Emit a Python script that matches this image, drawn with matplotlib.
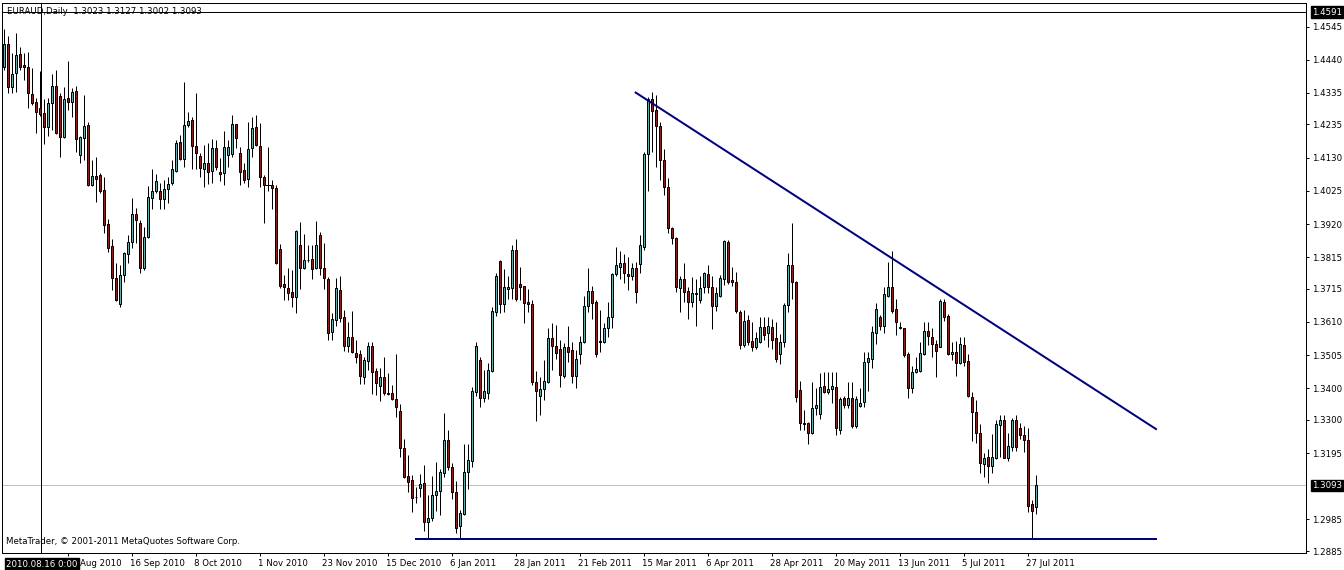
import matplotlib
matplotlib.use("Agg")
import matplotlib.pyplot as plt
import matplotlib.transforms as mtransforms
from matplotlib.patches import Rectangle

# EURAUD daily bars, prices in pips (1e-4)
opens = [14418, 14490, 14355, 14397, 14458, 14424, 14416, 14332, 14306, 14286,
         14271, 14228, 14302, 14357, 14325, 14195, 14318, 14307, 14341, 14139,
         14191, 14234, 14043, 14072, 14075, 14028, 13920, 13851, 13748, 13667,
         13758, 13824, 13863, 13952, 13922, 13780, 13880, 14002, 14024, 14026,
         13998, 14030, 14049, 14089, 14179, 14125, 14232, 14249, 14167, 14136,
         14095, 14112, 14089, 14161, 14084, 14081, 14139, 14141, 14236, 14146,
         14091, 14062, 14160, 14226, 14168, 14068, 14043, 14043, 14035, 13840,
         13729, 13716, 13704, 13690, 13854, 13780, 13805, 13808, 13780, 13885,
         13780, 13746, 13577, 13616, 13711, 13625, 13535, 13563, 13511, 13507,
         13437, 13487, 13534, 13454, 13407, 13435, 13386, 13384, 13367, 13328,
         13210, 13122, 13110, 13057, 13083, 13099, 12978, 12988, 13061, 13076,
         13133, 13236, 13152, 13071, 12965, 13002, 13136, 13171, 13389, 13490,
         13370, 13386, 13456, 13643, 13803, 13666, 13713, 13719, 13838, 13729,
         13724, 13672, 13666, 13421, 13377, 13397, 13421, 13558, 13535, 13524,
         13440, 13530, 13521, 13440, 13508, 13546, 13659, 13709, 13674, 13550,
         13546, 13590, 13627, 13761, 13785, 13798, 13761, 13754, 13780, 13793,
         13848, 14142, 14316, 14281, 14230, 14123, 14036, 13906, 13875, 13717,
         13745, 13709, 13672, 13703, 13678, 13720, 13762, 13720, 13659, 13692,
         13745, 13864, 13743, 13738, 13641, 13537, 13616, 13550, 13532, 13548,
         13595, 13574, 13593, 13558, 13508, 13546, 13664, 13790, 13738, 13395,
         13291, 13291, 13257, 13337, 13318, 13407, 13389, 13397, 13403, 13268,
         13368, 13347, 13368, 13281, 13345, 13356, 13484, 13492, 13574, 13625,
         13598, 13693, 13720, 13651, 13593, 13590, 13509, 13400, 13450, 13456,
         13509, 13582, 13563, 13540, 13532, 13672, 13629, 13509, 13516, 13479,
         13537, 13486, 13374, 13324, 13257, 13159, 13181, 13155, 13180, 13284,
         13300, 13180, 13215, 13300, 13275, 13252, 13236, 13034, 13023]
highs = [14536, 14515, 14460, 14524, 14480, 14460, 14465, 14413, 14318, 14405,
         14316, 14318, 14395, 14408, 14334, 14353, 14435, 14350, 14357, 14197,
         14329, 14242, 14123, 14133, 14081, 14068, 13935, 13872, 13796, 13791,
         13830, 13886, 14002, 13970, 13933, 13912, 14041, 14093, 14079, 14049,
         14060, 14070, 14121, 14186, 14202, 14368, 14273, 14260, 14336, 14146,
         14170, 14176, 14189, 14186, 14128, 14215, 14186, 14265, 14237, 14165,
         14112, 14244, 14258, 14265, 14239, 14075, 14165, 14060, 14045, 13857,
         13759, 13780, 13774, 13901, 13925, 13888, 13854, 13854, 13930, 13894,
         13859, 13753, 13637, 13750, 13756, 13648, 13611, 13645, 13553, 13521,
         13500, 13545, 13545, 13463, 13463, 13498, 13449, 13410, 13509, 13350,
         13240, 13189, 13126, 13089, 13129, 13157, 13062, 13122, 13168, 13144,
         13323, 13268, 13163, 13108, 13015, 13224, 13224, 13403, 13548, 13500,
         13458, 13479, 13656, 13766, 13805, 13778, 13756, 13854, 13873, 13785,
         13724, 13714, 13680, 13455, 13435, 13490, 13590, 13606, 13601, 13553,
         13543, 13597, 13548, 13521, 13566, 13692, 13780, 13724, 13680, 13648,
         13606, 13672, 13766, 13846, 13833, 13825, 13817, 13798, 13801, 13885,
         14149, 14321, 14337, 14328, 14244, 14158, 14065, 13910, 13878, 13754,
         13798, 13722, 13751, 13745, 13754, 13769, 13790, 13756, 13722, 13759,
         13870, 13870, 13783, 13769, 13648, 13648, 13632, 13611, 13579, 13625,
         13625, 13625, 13618, 13611, 13571, 13669, 13827, 13924, 13740, 13423,
         13331, 13293, 13421, 13400, 13447, 13453, 13453, 13450, 13450, 13371,
         13376, 13421, 13421, 13377, 13400, 13516, 13516, 13597, 13669, 13632,
         13722, 13801, 13835, 13683, 13611, 13592, 13516, 13472, 13498, 13548,
         13609, 13611, 13590, 13553, 13683, 13682, 13634, 13548, 13551, 13563,
         13563, 13509, 13389, 13363, 13287, 13196, 13207, 13254, 13300, 13316,
         13316, 13257, 13305, 13316, 13289, 13281, 13275, 13046, 13127]
lows = [14406, 14334, 14334, 14339, 14408, 14376, 14288, 14297, 14209, 14263,
        14173, 14200, 14218, 14205, 14133, 14191, 14281, 14258, 14149, 14112,
        14123, 14040, 14040, 13991, 14017, 13891, 13830, 13711, 13675, 13657,
        13738, 13796, 13845, 13859, 13766, 13773, 13875, 13968, 14017, 13968,
        13968, 13988, 14044, 14086, 14123, 14102, 14228, 14094, 14094, 14070,
        14038, 14046, 14051, 14091, 14057, 14042, 14102, 14133, 14160, 14042,
        14049, 14036, 14131, 14167, 14038, 13922, 14026, 13966, 13794, 13719,
        13680, 13680, 13658, 13637, 13714, 13777, 13801, 13746, 13778, 13759,
        13713, 13553, 13553, 13597, 13611, 13518, 13516, 13512, 13479, 13414,
        13413, 13458, 13381, 13379, 13361, 13379, 13379, 13363, 13310, 13184,
        13117, 13071, 13007, 13036, 13057, 12949, 12923, 12980, 13013, 12999,
        13120, 13141, 13049, 12941, 12923, 12999, 13080, 13152, 13376, 13342,
        13358, 13366, 13453, 13629, 13639, 13643, 13683, 13682, 13676, 13680,
        13608, 13643, 13411, 13298, 13314, 13363, 13416, 13458, 13493, 13405,
        13434, 13484, 13418, 13400, 13477, 13543, 13641, 13618, 13498, 13514,
        13543, 13561, 13592, 13756, 13745, 13732, 13711, 13743, 13671, 13764,
        13838, 14026, 14149, 14100, 14059, 14012, 13891, 13857, 13704, 13640,
        13674, 13618, 13656, 13598, 13671, 13701, 13701, 13587, 13646, 13690,
        13727, 13730, 13725, 13637, 13524, 13532, 13537, 13518, 13524, 13543,
        13553, 13532, 13524, 13484, 13476, 13532, 13643, 13682, 13358, 13268,
        13268, 13223, 13254, 13316, 13302, 13384, 13382, 13352, 13252, 13254,
        13337, 13337, 13273, 13275, 13342, 13342, 13393, 13463, 13539, 13585,
        13574, 13688, 13639, 13569, 13588, 13500, 13368, 13386, 13447, 13453,
        13505, 13537, 13500, 13435, 13530, 13614, 13505, 13490, 13440, 13476,
        13471, 13374, 13233, 13226, 13133, 13118, 13101, 13133, 13175, 13181,
        13178, 13171, 13203, 13203, 13238, 13199, 13010, 12923, 13002]
closes = [14490, 14353, 14395, 14455, 14418, 14416, 14334, 14304, 14276, 14268,
          14226, 14302, 14357, 14209, 14195, 14315, 14307, 14339, 14188, 14195,
          14230, 14043, 14072, 14062, 14026, 13918, 13845, 13748, 13678, 13758,
          13828, 13863, 13952, 13933, 13780, 13878, 14005, 14024, 14057, 13998,
          14030, 14047, 14093, 14176, 14127, 14234, 14245, 14168, 14144, 14096,
          14112, 14086, 14161, 14102, 14077, 14163, 14163, 14236, 14191, 14086,
          14060, 14157, 14223, 14170, 14068, 14043, 14043, 14035, 13796, 13724,
          13720, 13703, 13690, 13898, 13782, 13805, 13806, 13777, 13854, 13780,
          13748, 13576, 13619, 13716, 13621, 13535, 13563, 13514, 13500, 13440,
          13490, 13534, 13451, 13416, 13435, 13384, 13381, 13366, 13340, 13212,
          13120, 13104, 13052, 13056, 13097, 12978, 12988, 13062, 13075, 13134,
          13236, 13152, 13071, 12957, 13004, 13136, 13173, 13391, 13534, 13368,
          13391, 13458, 13645, 13756, 13666, 13720, 13720, 13838, 13682, 13722,
          13669, 13666, 13421, 13390, 13397, 13423, 13558, 13535, 13513, 13442,
          13530, 13516, 13440, 13492, 13546, 13661, 13709, 13671, 13509, 13545,
          13590, 13627, 13762, 13789, 13798, 13764, 13754, 13780, 13706, 13854,
          14142, 14316, 14279, 14231, 14121, 14038, 13906, 13875, 13722, 13745,
          13706, 13672, 13701, 13698, 13717, 13764, 13720, 13659, 13701, 13748,
          13866, 13738, 13736, 13646, 13537, 13614, 13548, 13532, 13558, 13593,
          13569, 13597, 13553, 13492, 13546, 13664, 13790, 13735, 13371, 13289,
          13286, 13257, 13337, 13347, 13403, 13389, 13398, 13407, 13273, 13366,
          13347, 13368, 13281, 13366, 13352, 13482, 13495, 13577, 13651, 13598,
          13697, 13720, 13646, 13609, 13590, 13505, 13400, 13453, 13460, 13511,
          13581, 13567, 13540, 13518, 13676, 13627, 13509, 13516, 13481, 13539,
          13482, 13377, 13324, 13257, 13163, 13180, 13155, 13181, 13287, 13300,
          13180, 13218, 13300, 13215, 13252, 13236, 13029, 13013, 13093]

# first label is partly hidden behind the crosshair date box, only "Aug 2010" shows
date_labels = ['Aug 2010', '16 Sep 2010', '8 Oct 2010', '1 Nov 2010', '23 Nov 2010',
               '15 Dec 2010', '6 Jan 2011', '28 Jan 2011', '21 Feb 2011', '15 Mar 2011',
               '6 Apr 2011', '28 Apr 2011', '20 May 2011', '13 Jun 2011', '5 Jul 2011',
               '27 Jul 2011']
price_ticks = [1.4545, 1.4440, 1.4335, 1.4235, 1.4130, 1.4025, 1.3920, 1.3815, 1.3715,
               1.3610, 1.3505, 1.3400, 1.3300, 1.3195, 1.2985, 1.2885]

# trend lines drawn on the chart (bar index, price)
resist_bars = [158, 288.1]
resist_prices = [1.4336, 1.3271]
support_bars = [103, 288.1]
support_price = 1.2923

cross_bar = 9.3
cross_price = 1.4591
cross_date = '2010.08.16 0:00'
last_price = 1.3093

up_col = '#2ec4c4'
down_col = '#d40000'
line_col = '#000080'

fig = plt.figure(figsize=(13.44, 5.70), dpi=100)
ax = fig.add_axes([2 / 1344, 17 / 570, 1304 / 1344, 550 / 570])
ax.set_xlim(-0.43, 325.6)
ax.set_ylim(1.28787, 1.46195)

px = 0.72  # one pixel in points
for i in range(len(closes)):
    o, h, l, c = opens[i] / 1e4, highs[i] / 1e4, lows[i] / 1e4, closes[i] / 1e4
    ax.plot([i, i], [l, h], color='black', lw=px, zorder=2, solid_capstyle='butt')
    if o == c:
        ax.plot([i - 0.5, i + 0.5], [o, o], color='black', lw=px, zorder=3)
        continue
    col = up_col if c > o else down_col
    ax.add_patch(Rectangle((i - 0.25, min(o, c)), 0.5, abs(c - o),
                           facecolor=col, edgecolor='black', lw=px, zorder=3))

# current price line and crosshair
ax.axhline(last_price, color='#c0c0c0', lw=px, zorder=1)
ax.axhline(cross_price, color='black', lw=px, zorder=4)
ax.axvline(cross_bar, color='black', lw=px, zorder=4)

# trend lines
ax.plot(resist_bars, resist_prices, color=line_col, lw=2 * px, zorder=5)
ax.plot(support_bars, [support_price, support_price], color=line_col, lw=2 * px, zorder=5)

fs = 6.2
ax.yaxis.tick_right()
ax.set_yticks(price_ticks)
ax.set_yticklabels([f'{p:.4f}' for p in price_ticks])
ax.tick_params(axis='y', direction='out', length=2.5, width=px, pad=2, labelsize=fs)
ax.set_xticks(range(16, 16 * (len(date_labels) + 1), 16))
ax.set_xticklabels(date_labels, ha='left')
ax.tick_params(axis='x', direction='out', length=2.5, width=px, pad=2, labelsize=fs)
for k, lab in enumerate(ax.get_xticklabels()):
    shift = 12 if k == 0 else -2
    lab.set_transform(lab.get_transform() + mtransforms.ScaledTranslation(shift / 100, 0, fig.dpi_scale_trans))
for sp in ax.spines.values():
    sp.set_linewidth(px)

ax.text(0.004, 0.993, 'EURAUD,Daily  1.3023 1.3127 1.3002 1.3093', transform=ax.transAxes,
        fontsize=fs, va='top', ha='left', color='black')
ax.text(0.003, 0.012, 'MetaTrader, © 2001-2011 MetaQuotes Software Corp.', transform=ax.transAxes,
        fontsize=fs, va='bottom', ha='left', color='black')

# black boxed labels (crosshair date / prices)
bb = dict(boxstyle='square,pad=0.15', facecolor='black', edgecolor='black')
ax.text(0.003, -0.012, cross_date, transform=ax.transAxes, fontsize=fs, color='white',
        va='top', ha='left', bbox=bb, zorder=10)
ytr = mtransforms.blended_transform_factory(ax.transAxes, ax.transData)
for p in (cross_price, last_price):
    ax.text(1.0045, p, f'{p:.4f}', transform=ytr, fontsize=fs, color='white',
            va='center', ha='left', bbox=bb, zorder=10, clip_on=False)

fig.savefig('out.png', dpi=100)
